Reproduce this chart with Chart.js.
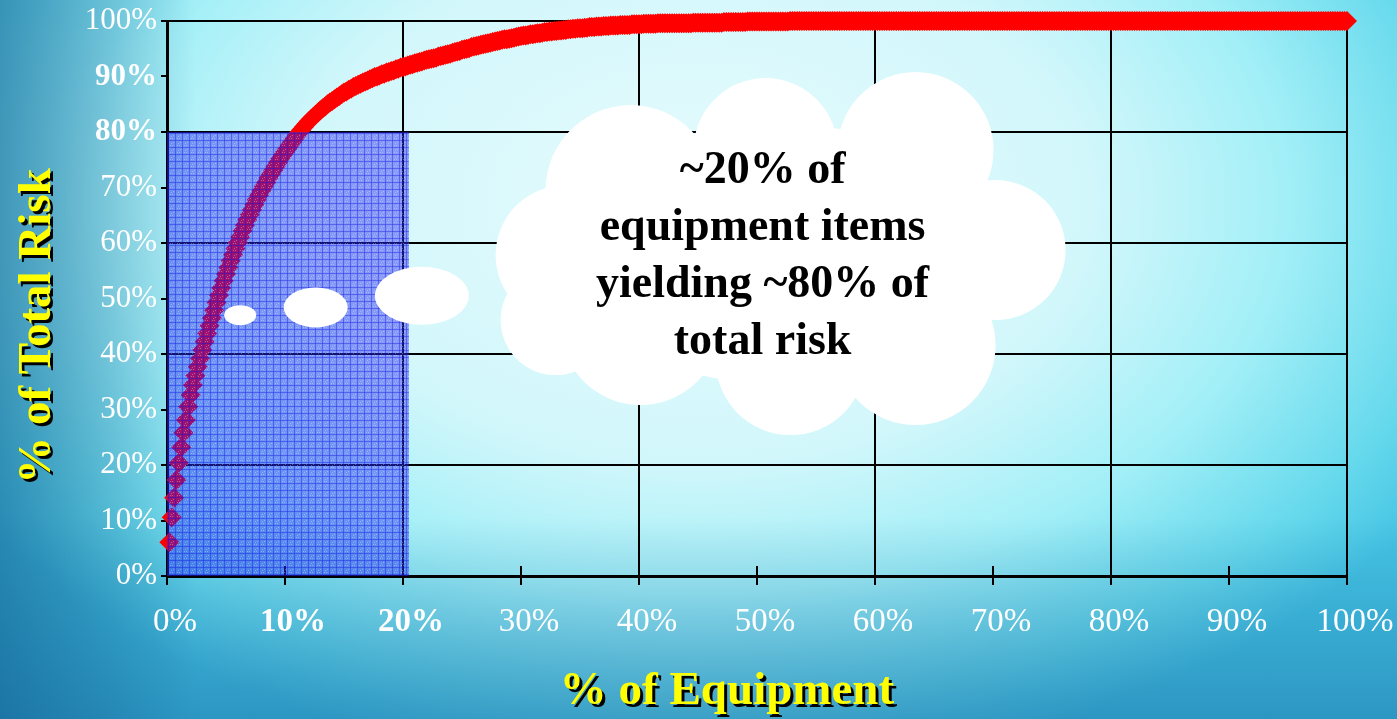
<!DOCTYPE html>
<html>
<head>
<meta charset="utf-8">
<script src="https://cdn.jsdelivr.net/npm/chart.js@4.4.1/dist/chart.umd.min.js"></script>
<style>
  html, body { margin: 0; padding: 0; width: 1397px; height: 719px; overflow: hidden; }
  body {
    background:
      linear-gradient(to right, rgba(15, 90, 140, 0.55) 0%, rgba(15, 90, 140, 0.25) 8%, rgba(15, 90, 140, 0) 14%),
      linear-gradient(to bottom, rgba(15, 95, 155, 0) 72%, rgba(15, 95, 155, 0.45) 100%),
      radial-gradient(ellipse 62% 80% at 50% 28%, #e6fbfd 0%, #d2f7fb 45%, #a2eff7 68%, #66d9ec 88%, #45c4e4 100%);
  }
  canvas { display: block; }
</style>
</head>
<body>
<canvas id="chart" width="1397" height="719"></canvas>
<script>
// cumulative share of total risk, one value per equipment item (500 items, 0.2 % each)
const equipmentStep = 0.2;
const riskPct = [
  6.1, 10.6, 14.1, 17.3, 20.4, 23.2, 25.8, 28.1, 30.5, 32.6,
  34.4, 36.1, 37.7, 39.2, 40.7, 42.2, 43.7, 45.1, 46.5, 47.9,
  49.3, 50.6, 51.9, 53.2, 54.4, 55.6, 56.8, 57.9, 59.0, 60.1,
  61.1, 62.2, 63.2, 64.2, 65.1, 66.0, 66.9, 67.8, 68.6, 69.4,
  70.2, 70.9, 71.7, 72.4, 73.1, 73.8, 74.5, 75.2, 75.8, 76.4,
  77.0, 77.6, 78.2, 78.8, 79.4, 79.9, 80.4, 80.9, 81.4, 81.9,
  82.3, 82.7, 83.1, 83.5, 83.9, 84.3, 84.6, 85.0, 85.3, 85.6,
  85.9, 86.2, 86.5, 86.8, 87.1, 87.3, 87.6, 87.8, 88.1, 88.3,
  88.5, 88.7, 88.9, 89.1, 89.3, 89.5, 89.7, 89.9, 90.0, 90.2,
  90.4, 90.5, 90.7, 90.8, 91.0, 91.1, 91.3, 91.4, 91.6, 91.7,
  91.8, 92.0, 92.1, 92.2, 92.4, 92.5, 92.6, 92.7, 92.9, 93.0,
  93.1, 93.2, 93.3, 93.4, 93.6, 93.7, 93.8, 93.9, 94.0, 94.1,
  94.3, 94.4, 94.5, 94.6, 94.8, 94.9, 95.0, 95.1, 95.3, 95.4,
  95.5, 95.6, 95.7, 95.8, 95.9, 96.0, 96.1, 96.2, 96.3, 96.4,
  96.5, 96.6, 96.7, 96.7, 96.8, 96.9, 97.0, 97.1, 97.2, 97.3,
  97.4, 97.4, 97.5, 97.6, 97.6, 97.7, 97.8, 97.8, 97.9, 98.0,
  98.0, 98.1, 98.1, 98.2, 98.2, 98.3, 98.3, 98.4, 98.4, 98.5,
  98.5, 98.6, 98.6, 98.7, 98.7, 98.7, 98.8, 98.8, 98.9, 98.9,
  98.9, 99.0, 99.0, 99.0, 99.1, 99.1, 99.1, 99.2, 99.2, 99.2,
  99.2, 99.3, 99.3, 99.3, 99.3, 99.3, 99.4, 99.4, 99.4, 99.4,
  99.4, 99.5, 99.5, 99.5, 99.5, 99.5, 99.5, 99.6, 99.6, 99.6,
  99.6, 99.6, 99.6, 99.6, 99.6, 99.6, 99.6, 99.6, 99.6, 99.6,
  99.6, 99.6, 99.7, 99.7, 99.7, 99.7, 99.7, 99.7, 99.7, 99.7,
  99.7, 99.7, 99.7, 99.7, 99.7, 99.8, 99.8, 99.8, 99.8, 99.8,
  99.8, 99.8, 99.8, 99.8, 99.8, 99.9, 99.9, 99.9, 99.9, 99.9,
  99.9, 99.9, 99.9, 99.9, 99.9, 99.9, 99.9, 99.9, 99.9, 99.9,
  99.9, 99.9, 99.9, 100, 100, 100, 100, 100, 100, 100,
  100, 100, 100, 100, 100, 100, 100, 100, 100, 100,
  100, 100, 100, 100, 100, 100, 100, 100, 100, 100,
  100, 100, 100, 100, 100, 100, 100, 100, 100, 100,
  100, 100, 100, 100, 100, 100, 100, 100, 100, 100,
  100, 100, 100, 100, 100, 100, 100, 100, 100, 100,
  100, 100, 100, 100, 100, 100, 100, 100, 100, 100,
  100, 100, 100, 100, 100, 100, 100, 100, 100, 100,
  100, 100, 100, 100, 100, 100, 100, 100, 100, 100,
  100, 100, 100, 100, 100, 100, 100, 100, 100, 100,
  100, 100, 100, 100, 100, 100, 100, 100, 100, 100,
  100, 100, 100, 100, 100, 100, 100, 100, 100, 100,
  100, 100, 100, 100, 100, 100, 100, 100, 100, 100,
  100, 100, 100, 100, 100, 100, 100, 100, 100, 100,
  100, 100, 100, 100, 100, 100, 100, 100, 100, 100,
  100, 100, 100, 100, 100, 100, 100, 100, 100, 100,
  100, 100, 100, 100, 100, 100, 100, 100, 100, 100,
  100, 100, 100, 100, 100, 100, 100, 100, 100, 100,
  100, 100, 100, 100, 100, 100, 100, 100, 100, 100,
  100, 100, 100, 100, 100, 100, 100, 100, 100, 100,
  100, 100, 100, 100, 100, 100, 100, 100, 100, 100,
  100, 100, 100, 100, 100, 100, 100, 100, 100, 100,
  100, 100, 100, 100, 100, 100, 100, 100, 100, 100,
  100, 100, 100, 100, 100, 100, 100, 100, 100, 100
];

const boldYTicks = [80, 90];
const boldXTicks = [10, 20];

// shaded "vital few" block
const highlightEquip = 20.5;
const highlightRisk = 80;

const xTitle = "% of Equipment";
const yTitle = "% of Total Risk";
const cloudLines = ["~20% of", "equipment items", "yielding ~80% of", "total risk"];

const serif = "'Liberation Serif', 'Times New Roman', serif";

const points = riskPct.map((v, i) => ({ x: (i + 1) * equipmentStep, y: v }));

// blue mesh fill for the highlight block
function meshPattern(ctx) {
  const pc = document.createElement("canvas");
  pc.width = 7;
  pc.height = 7;
  const p = pc.getContext("2d");
  p.fillStyle = "rgba(40,40,245,0.46)";
  p.fillRect(0, 0, 7, 7);
  p.fillStyle = "rgba(15,15,225,0.38)";
  p.fillRect(0, 0, 7, 1);
  p.fillRect(0, 0, 1, 7);
  p.fillStyle = "rgba(255,255,255,0.3)";
  p.fillRect(3, 3, 1, 1);
  p.fillRect(5, 2, 1, 1);
  p.fillRect(2, 5, 1, 1);
  p.fillRect(4, 5, 1, 1);
  return ctx.createPattern(pc, "repeat");
}

const overlay = {
  id: "overlay",
  beforeDatasetsDraw(chart) {
    const { ctx, scales: { x, y } } = chart;
    const y0 = y.getPixelForValue(0);
    ctx.save();
    ctx.strokeStyle = "#000";
    ctx.lineWidth = 2;
    x.ticks.forEach(t => {
      if (t.value % 20 === 0) return;
      const px = x.getPixelForValue(t.value);
      ctx.beginPath();
      ctx.moveTo(px, y0);
      ctx.lineTo(px, y0 - 10);
      ctx.stroke();
    });
    ctx.restore();
  },
  afterDatasetsDraw(chart) {
    const { ctx, scales: { x, y } } = chart;
    ctx.save();

    const l = x.getPixelForValue(0);
    const r = x.getPixelForValue(highlightEquip);
    const t = y.getPixelForValue(highlightRisk);
    const b = y.getPixelForValue(0);
    ctx.fillStyle = meshPattern(ctx);
    ctx.fillRect(l, t, r - l, b - t);

    // thought bubbles
    ctx.fillStyle = "#fff";
    const bubbles = [[6.2, 47.0, 16, 10], [12.6, 48.4, 32, 20], [21.6, 50.5, 47, 29]];
    bubbles.forEach(([bx, by, rx, ry]) => {
      ctx.beginPath();
      ctx.ellipse(x.getPixelForValue(bx), y.getPixelForValue(by), rx, ry, 0, 0, Math.PI * 2);
      ctx.fill();
    });

    // cloud
    const cx = x.getPixelForValue(52);
    const cy = y.getPixelForValue(58);
    const lobes = [
      [-150, -64, 85], [-15, -104, 72], [135, -104, 78], [215, -4, 70],
      [135, 91, 80], [10, 106, 75], [-140, 71, 80], [-215, 1, 70], [-225, 66, 55]
    ];
    ctx.beginPath();
    lobes.forEach(([dx, dy, rr]) => {
      ctx.moveTo(cx + dx + rr, cy + dy);
      ctx.arc(cx + dx, cy + dy, rr, 0, Math.PI * 2);
    });
    ctx.moveTo(cx + 220, cy);
    ctx.ellipse(cx, cy, 220, 130, 0, 0, Math.PI * 2);
    ctx.fill();

    ctx.fillStyle = "#000";
    ctx.font = "bold 46px " + serif;
    ctx.textAlign = "center";
    ctx.textBaseline = "alphabetic";
    cloudLines.forEach((line, i) => {
      ctx.fillText(line, cx - 18, cy - 71 + i * 57);
    });
    ctx.restore();
  },
  afterDraw(chart) {
    const { ctx, chartArea } = chart;
    ctx.save();
    ctx.font = "bold 47px " + serif;
    ctx.textAlign = "center";
    ctx.textBaseline = "middle";

    const tx = 727;
    const ty = 692;
    ctx.fillStyle = "#000";
    ctx.fillText(xTitle, tx + 3, ty + 3);
    ctx.fillStyle = "#ffff00";
    ctx.fillText(xTitle, tx, ty);

    ctx.translate(38, 326);
    ctx.rotate(-Math.PI / 2);
    ctx.fillStyle = "#000";
    ctx.fillText(yTitle, -3, 3);
    ctx.fillStyle = "#ffff00";
    ctx.fillText(yTitle, 0, 0);
    ctx.restore();
  }
};

const majorGrid = ctx => (ctx.tick && ctx.tick.value % 20 === 0 ? "#000" : "rgba(0,0,0,0)");

new Chart(document.getElementById("chart"), {
  type: "scatter",
  data: {
    datasets: [{
      data: points,
      showLine: false,
      pointStyle: "rectRot",
      pointRadius: 10,
      pointHoverRadius: 10,
      pointBorderWidth: 0,
      pointBackgroundColor: "#ff0000",
      pointBorderColor: "#ff0000",
      clip: false
    }]
  },
  options: {
    responsive: false,
    animation: false,
    events: [],
    layout: { padding: { top: 21, right: 50, left: 0, bottom: 0 } },
    plugins: {
      legend: { display: false },
      tooltip: { enabled: false }
    },
    scales: {
      x: {
        type: "linear",
        min: 0,
        max: 100,
        afterFit: s => { s.height = 143; s.paddingLeft = 0; s.paddingRight = 0; },
        border: { display: true, color: "#000", width: 3 },
        grid: { color: majorGrid, lineWidth: 2, tickColor: "#000", tickWidth: 2, tickLength: 9 },
        ticks: {
          stepSize: 10,
          padding: 18,
          labelOffset: 8,
          maxRotation: 0,
          color: "#fff",
          callback: v => v + "%",
          font: ctx => ({ family: serif, size: 33, weight: boldXTicks.includes(ctx.tick && ctx.tick.value) ? "bold" : "normal" })
        }
      },
      y: {
        type: "linear",
        min: 0,
        max: 100,
        afterFit: s => { s.width = 167; s.paddingTop = 0; s.paddingBottom = 0; },
        border: { display: true, color: "#000", width: 3 },
        grid: { color: majorGrid, lineWidth: 2, tickColor: "#000", tickWidth: 2, tickLength: 6 },
        ticks: {
          stepSize: 10,
          padding: 4,
          color: "#fff",
          callback: v => v + "%",
          font: ctx => ({ family: serif, size: 31, weight: boldYTicks.includes(ctx.tick && ctx.tick.value) ? "bold" : "normal" })
        }
      }
    }
  },
  plugins: [overlay]
});
</script>
</body>
</html>
